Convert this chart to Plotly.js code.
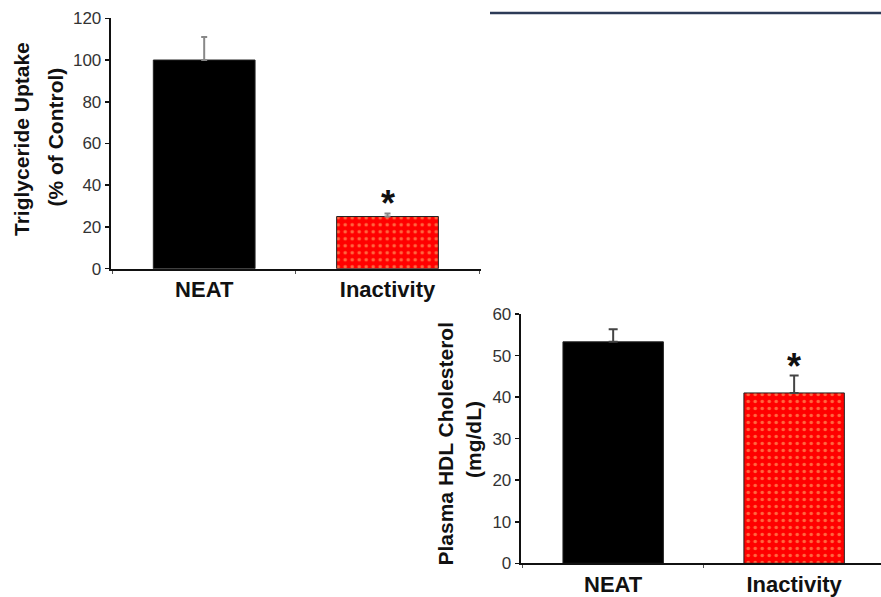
<!DOCTYPE html>
<html>
<head>
<meta charset="utf-8">
<script src="https://cdn.plot.ly/plotly-3.0.1.min.js"></script>
<style>html,body{margin:0;padding:0;background:#fff;}#chart{width:881px;height:597px;}</style>
</head>
<body>
<div id="chart"></div>
<script>
// ---- data ----
const categories = ['NEAT', 'Inactivity'];
const tgValues = [100, 25];
const tgErrors = [11, 1.5];
const hdlValues = [53.3, 41];
const hdlErrors = [3, 4.2];
const significant = [false, true];
const tgTicks = [0, 20, 40, 60, 80, 100, 120];
const hdlTicks = [0, 10, 20, 30, 40, 50, 60];

const FONT = 'Liberation Sans, Arial, sans-serif';
const barColors = ['#000000', '#ff0000'];
const barPatterns = [null, {shape: '.', bgcolor: '#ff0000', fgcolor: '#ffd080', size: 7, solidity: 0.2, fillmode: 'overlay'}];

function barTraces(vals, errs, xa, ya, errColor, capW) {
  return categories.map((c, i) => {
    const marker = {color: barColors[i], line: {color: '#222', width: 1}};
    if (barPatterns[i]) marker.pattern = barPatterns[i];
    return {
      type: 'bar', x: [c], y: [vals[i]], xaxis: xa, yaxis: ya,
      width: 0.555, marker: marker,
      error_y: {type: 'data', array: [errs[i]], arrayminus: [0], symmetric: false,
        color: errColor, thickness: 2, width: capW},
      hoverinfo: 'skip', showlegend: false
    };
  });
}

const data = [].concat(
  barTraces(tgValues, tgErrors, 'x', 'y', '#888', 3),
  barTraces(hdlValues, hdlErrors, 'x2', 'y2', '#444', 4.5)
);

const starFont = {family: FONT, size: 36, color: '#111', weight: 'bold'};
const annotations = [];
categories.forEach((c, i) => {
  if (significant[i]) {
    annotations.push({xref: 'x', yref: 'y', x: c, y: tgValues[i] + tgErrors[i], text: '<b>*</b>',
      showarrow: false, yanchor: 'bottom', yshift: -13, font: starFont});
    annotations.push({xref: 'x2', yref: 'y2', x: c, y: hdlValues[i] + hdlErrors[i], text: '<b>*</b>',
      showarrow: false, yanchor: 'bottom', yshift: -14, font: starFont});
  }
});
// axis titles (two lines each)
const titleFont = {family: FONT, size: 21, color: '#111'};
annotations.push(
  {xref: 'paper', yref: 'paper', x: 22/881, y: 1 - 139/597, text: '<b>Triglyceride Uptake</b>', textangle: -90, showarrow: false, xanchor: 'center', yanchor: 'middle', font: titleFont},
  {xref: 'paper', yref: 'paper', x: 55/881, y: 1 - 137.5/597, text: '<b>(% of Control)</b>', textangle: -90, showarrow: false, xanchor: 'center', yanchor: 'middle', font: titleFont},
  {xref: 'paper', yref: 'paper', x: 445/881, y: 1 - 443.5/597, text: '<b>Plasma HDL Cholesterol</b>', textangle: -90, showarrow: false, xanchor: 'center', yanchor: 'middle', font: titleFont},
  {xref: 'paper', yref: 'paper', x: 473/881, y: 1 - 440/597, text: '<b>(mg/dL)</b>', textangle: -90, showarrow: false, xanchor: 'center', yanchor: 'middle', font: titleFont}
);

const tickFont = {family: FONT, size: 17, color: '#333'};
const catFont = {family: FONT, size: 22, color: '#111', weight: 'bold'};

function yAxis(domain, range, ticks, anchor) {
  return {domain: domain, range: range, tickvals: ticks, ticktext: ticks.map(String), anchor: anchor,
    showline: true, linecolor: '#111', linewidth: 2, ticks: 'outside', ticklen: 4, tickwidth: 1.5,
    tickcolor: '#111', showgrid: false, zeroline: false, tickfont: tickFont, fixedrange: true};
}
function xAxis(domain, range, anchor) {
  return {domain: domain, range: range, anchor: anchor, type: 'category', categoryarray: categories, categoryorder: 'array',
    showline: true, linecolor: '#111', linewidth: 2, ticks: 'outside', tickson: 'boundaries', ticklen: 3,
    tickcolor: '#555', tickwidth: 1, showgrid: false, zeroline: false, tickfont: catFont, fixedrange: true};
}

const layout = {
  width: 881, height: 597,
  margin: {l: 0, r: 0, t: 0, b: 0},
  paper_bgcolor: '#fff', plot_bgcolor: 'rgba(0,0,0,0)',
  showlegend: false, barmode: 'overlay',
  xaxis: xAxis([110.7/881, 481/881], [-0.51, 1.51], 'y'),
  yaxis: yAxis([1 - 268.7/597, 1 - 18.3/597], [0, 120], tgTicks, 'x'),
  xaxis2: xAxis([520.7/881, 1], [-0.511, 1.48], 'y2'),
  yaxis2: yAxis([1 - 563.3/597, 1 - 314/597], [0, 60], hdlTicks, 'x2'),
  annotations: annotations,
  shapes: [
    {type: 'line', xref: 'paper', yref: 'paper', x0: 490/881, x1: 1, y0: 1 - 13/597, y1: 1 - 13/597,
      line: {color: '#2c3b57', width: 2.5}}
  ]
};

Plotly.newPlot('chart', data, layout, {staticPlot: true, displayModeBar: false});
</script>
</body>
</html>
